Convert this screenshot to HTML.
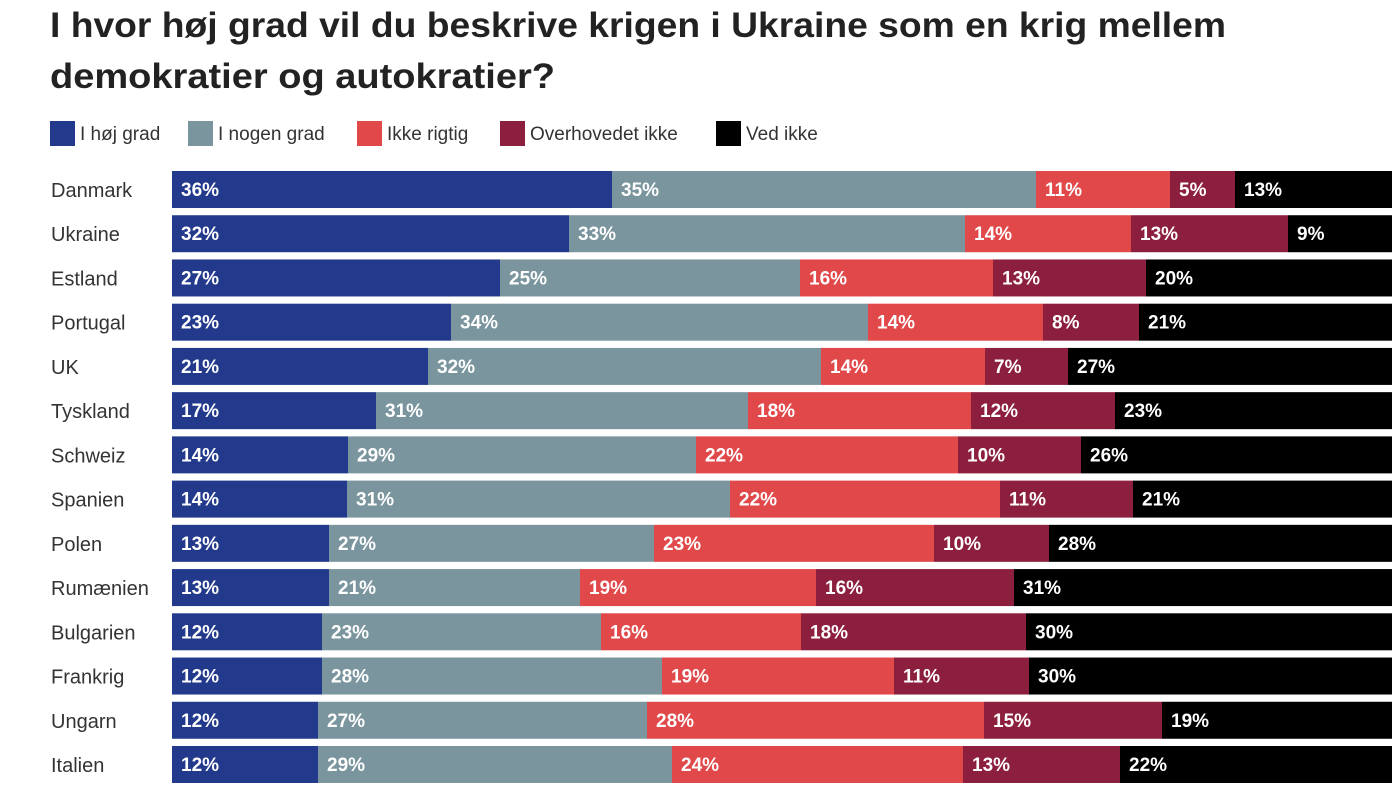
<!DOCTYPE html>
<html><head><meta charset="utf-8"><style>
body{margin:0;background:#fff}
svg text{font-family:"Liberation Sans Narrow","Liberation Sans",sans-serif}
</style></head><body>
<svg width="1400" height="805" xmlns="http://www.w3.org/2000/svg">
<rect width="1400" height="805" fill="#fff"/>
<text x="50" y="37" font-size="35" font-weight="bold" fill="#222" textLength="1176" lengthAdjust="spacingAndGlyphs">I hvor høj grad vil du beskrive krigen i Ukraine som en krig mellem</text>
<text x="50" y="88" font-size="35" font-weight="bold" fill="#222" textLength="505" lengthAdjust="spacingAndGlyphs">demokratier og autokratier?</text>
<g font-size="19" fill="#333">
<rect x="50" y="121" width="25" height="25" fill="#233a8c"/><text x="80" y="140">I høj grad</text>
<rect x="188" y="121" width="25" height="25" fill="#7a959e"/><text x="218" y="140">I nogen grad</text>
<rect x="357" y="121" width="25" height="25" fill="#e0484a"/><text x="387" y="140">Ikke rigtig</text>
<rect x="500" y="121" width="25" height="25" fill="#8c1f3d"/><text x="530" y="140">Overhovedet ikke</text>
<rect x="716" y="121" width="25" height="25" fill="#000"/><text x="746" y="140">Ved ikke</text>
</g>
<g id="bars"></g>
</svg>
<script>
var d=[["Danmark",[612,1036,1170,1235],[36,35,11,5,13]],
["Ukraine",[569,965,1131,1288],[32,33,14,13,9]],
["Estland",[500,800,993,1146],[27,25,16,13,20]],
["Portugal",[451,868,1043,1139],[23,34,14,8,21]],
["UK",[428,821,985,1068],[21,32,14,7,27]],
["Tyskland",[376,748,971,1115],[17,31,18,12,23]],
["Schweiz",[348,696,958,1081],[14,29,22,10,26]],
["Spanien",[347,730,1000,1133],[14,31,22,11,21]],
["Polen",[329,654,934,1049],[13,27,23,10,28]],
["Rumænien",[329,580,816,1014],[13,21,19,16,31]],
["Bulgarien",[322,601,801,1026],[12,23,16,18,30]],
["Frankrig",[322,662,894,1029],[12,28,19,11,30]],
["Ungarn",[318,647,984,1162],[12,27,28,15,19]],
["Italien",[318,672,963,1120],[12,29,24,13,22]]];
var c=["#233a8c","#7a959e","#e0484a","#8c1f3d","#000"];
var s="";
d.forEach(function(r,i){var y=171+i*44.23;var b=[172].concat(r[1]).concat([1392]);
s+='<text x="51" y="'+(y+26)+'" font-size="20" fill="#333">'+r[0]+'</text>';
for(var k=0;k<5;k++){s+='<rect x="'+b[k]+'" y="'+y+'" width="'+(b[k+1]-b[k])+'" height="37" fill="'+c[k]+'"/>';
s+='<text x="'+(b[k]+9)+'" y="'+(y+25)+'" font-size="19" font-weight="bold" fill="#fff">'+r[2][k]+'%</text>';}});
document.getElementById("bars").innerHTML=s;
</script>
</body></html>
